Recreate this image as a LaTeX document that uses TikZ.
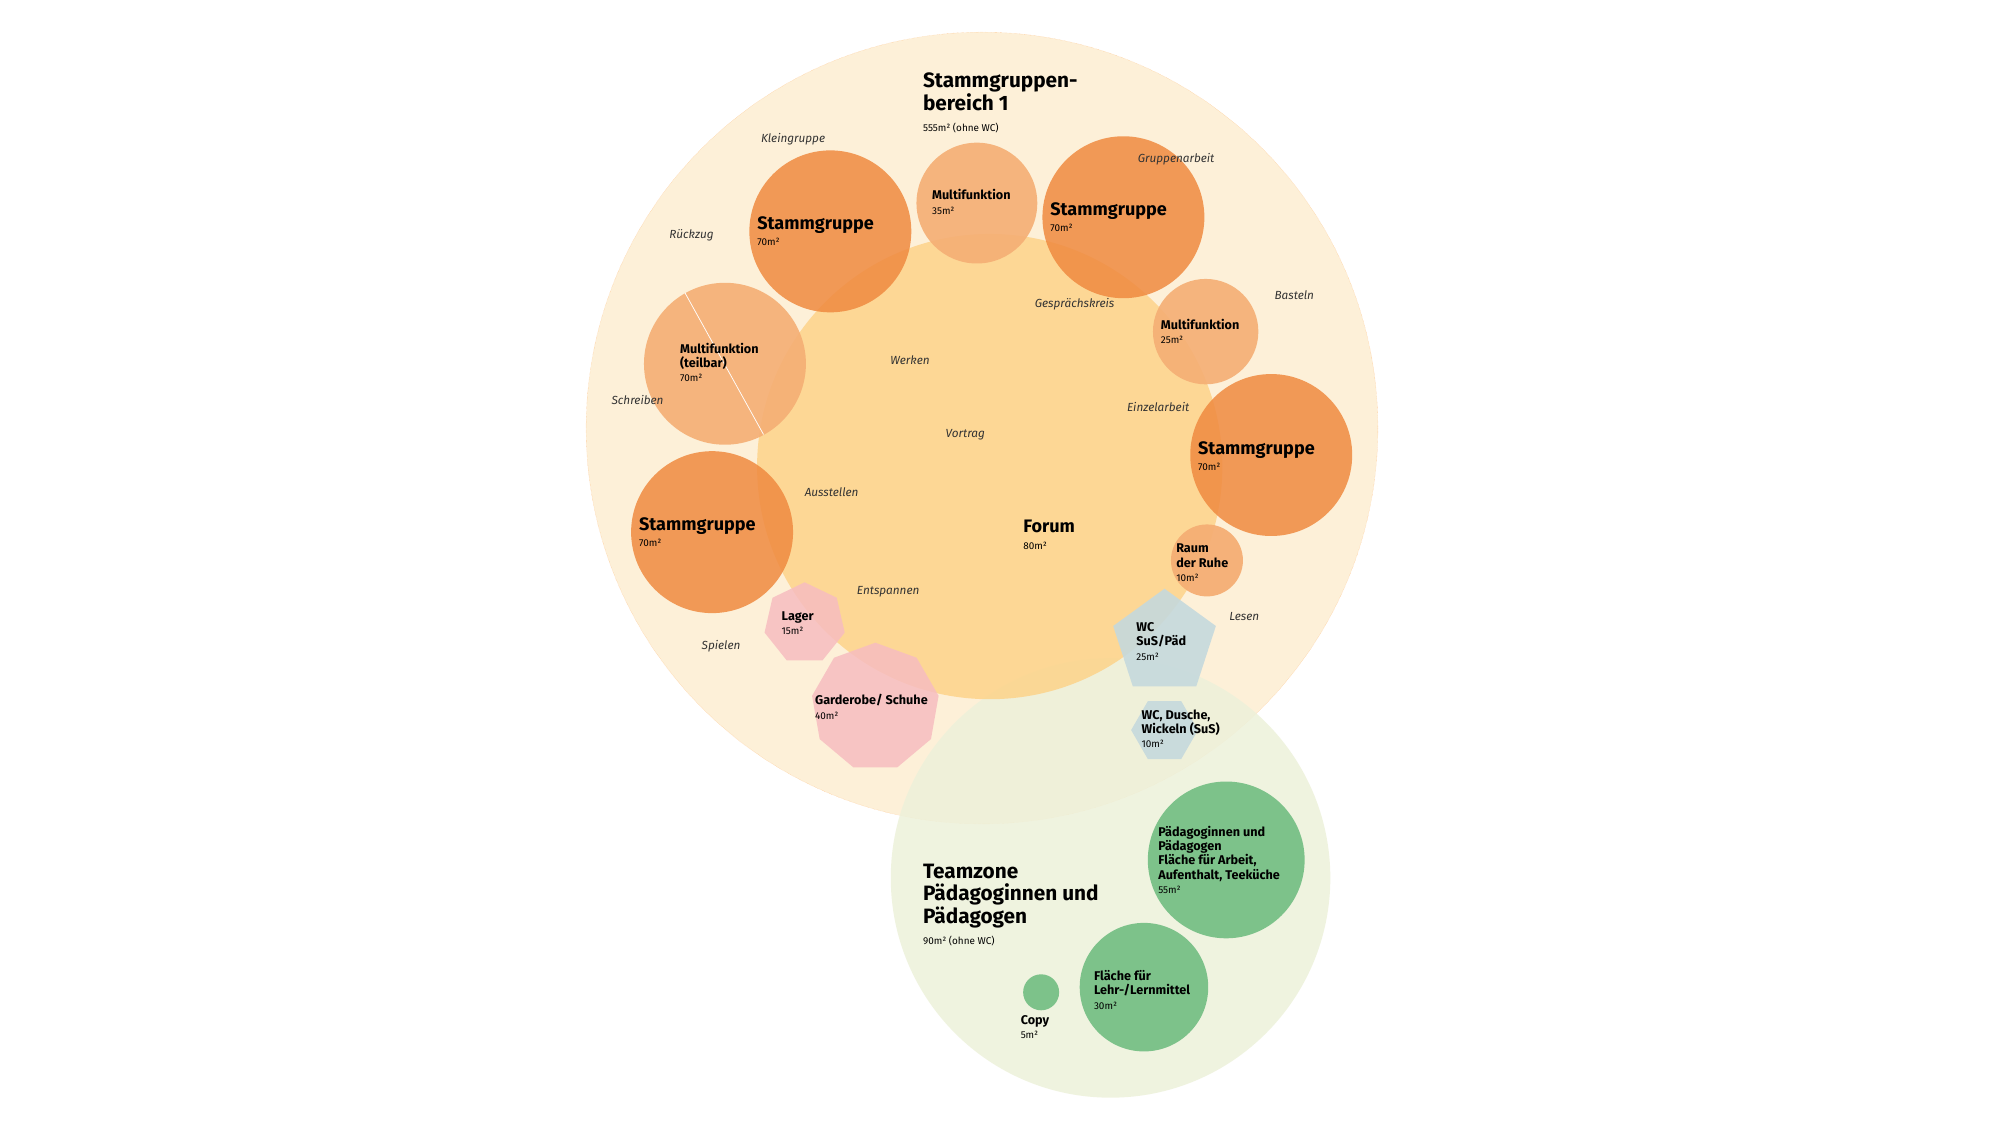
\documentclass[tikz,border=0pt]{standalone}
\usepackage{fontspec}
\setmainfont{Fira Sans}
\usetikzlibrary{shapes.geometric}
\definecolor{zoneorange}{HTML}{FDF0D8}
\definecolor{zonegreen}{HTML}{EDF1DA}
\definecolor{forumcol}{HTML}{FDD38A}
\definecolor{sgcol}{HTML}{F08A40}
\definecolor{mfcol}{HTML}{F5AE74}
\definecolor{pinkcol}{HTML}{F7BDC0}
\definecolor{wccol}{HTML}{C5D9DD}
\definecolor{greencol}{HTML}{7DC28A}
\tikzset{
  room/.style={circle, inner sep=0pt},
  hint/.style={font=\fontsize{13}{15}\selectfont\itshape, text=black!80, xshift=-0.2cm},
  lab/.style={anchor=west, align=left, inner sep=0pt, xshift=-0.3cm, font=\fontsize{14}{16}\selectfont\bfseries},
  biglab/.style={anchor=west, align=left, inner sep=0pt, xshift=-0.3cm, font=\fontsize{23}{25}\selectfont\bfseries},
}
\newcommand{\qm}[1]{{\fontsize{11}{14}\selectfont\mdseries #1}}
\begin{document}
\begin{tikzpicture}[x=0.05cm,y=-0.05cm]
            \useasboundingbox (0,0) rectangle (1556,877);
            \fill[white] (0,0) rectangle (1556,877);

            % zones
            \node[room, minimum size=30.8cm, fill=zoneorange, draw=orange!50, densely dotted] (zone1) at (764,333) {};
            \node[room, minimum size=17.1cm, fill=zonegreen, fill opacity=0.85] (zone2) at (864,683) {};
            \node[room, minimum size=18.1cm, fill=forumcol, fill opacity=0.85] (forum) at (770,363) {};

            % rooms
            \node[room, minimum size=4.7cm, fill=mfcol, fill opacity=0.9] (mf1) at (760,158) {};
            \node[room, minimum size=4.1cm, fill=mfcol, fill opacity=0.9] (mf2) at (938,258) {};
            \node[room, minimum size=6.3cm, fill=mfcol, fill opacity=0.9] (mf3) at (564,283) {};
            \draw[white, thick] (533,228) -- (594,338);
            \node[room, minimum size=6.3cm, fill=sgcol, fill opacity=0.85] (sg1) at (646,180) {};
            \node[room, minimum size=6.3cm, fill=sgcol, fill opacity=0.85] (sg2) at (874,169) {};
            \node[room, minimum size=6.3cm, fill=sgcol, fill opacity=0.85] (sg3) at (989,354) {};
            \node[room, minimum size=6.3cm, fill=sgcol, fill opacity=0.85] (sg4) at (554,414) {};
            \node[room, minimum size=2.8cm, fill=mfcol, fill opacity=0.95] (ruhe) at (939,436) {};
            \node[regular polygon, regular polygon sides=7, inner sep=0pt, minimum size=3.2cm, fill=pinkcol, fill opacity=0.85] (lager) at (626,485) {};
            \node[regular polygon, regular polygon sides=9, inner sep=0pt, minimum size=5cm, fill=pinkcol, fill opacity=0.85] (garde) at (681,550) {};
            \node[regular polygon, regular polygon sides=5, inner sep=0pt, minimum size=4.2cm, fill=wccol, fill opacity=0.9] (wc1) at (906,500) {};
            \node[regular polygon, regular polygon sides=6, inner sep=0pt, minimum size=2.6cm, fill=wccol, fill opacity=0.9] (wc2) at (906,568) {};
            \node[room, minimum size=6.1cm, fill=greencol] (paed) at (954,669) {};
            \node[room, minimum size=5cm, fill=greencol] (lehr) at (890,768) {};
            \node[room, minimum size=1.4cm, fill=greencol] (copy) at (810,772) {};

            % labels
            \node[biglab] (t1) at (724,80) {Stammgruppen-\\bereich 1\\[-2pt]\qm{555m² (ohne WC)}};
            \node[biglab] (t2) at (724,704) {Teamzone\\Pädagoginnen und\\Pädagogen\\[-2pt]\qm{90m² (ohne WC)}};
            \node[biglab, font=\fontsize{20}{22}\selectfont\bfseries] (l1) at (595,180) {Stammgruppe\\[-4pt]\qm{70m²}};
            \node[biglab, font=\fontsize{20}{22}\selectfont\bfseries] (l2) at (823,169) {Stammgruppe\\[-4pt]\qm{70m²}};
            \node[biglab, font=\fontsize{20}{22}\selectfont\bfseries] (l3) at (938,355) {Stammgruppe\\[-4pt]\qm{70m²}};
            \node[biglab, font=\fontsize{20}{22}\selectfont\bfseries] (l4) at (503,414) {Stammgruppe\\[-4pt]\qm{70m²}};
            \node[biglab, font=\fontsize{20}{22}\selectfont\bfseries] (l5) at (802,416) {Forum\\[-4pt]\qm{80m²}};
            \node[lab] (l6) at (731,157) {Multifunktion\\\qm{35m²}};
            \node[lab] (l7) at (909,258) {Multifunktion\\\qm{25m²}};
            \node[lab] (l8) at (535,282) {Multifunktion\\(teilbar)\\\qm{70m²}};
            \node[lab] (l9) at (921,438) {Raum\\der Ruhe\\\qm{10m²}};
            \node[lab] (l10) at (614,485) {Lager\\\qm{15m²}};
            \node[lab] (l11) at (640,550) {Garderobe/ Schuhe\\\qm{40m²}};
            \node[lab] (l12) at (890,499) {WC\\SuS/Päd\\\qm{25m²}};
            \node[lab] (l13) at (894,567) {WC, Dusche,\\Wickeln (SuS)\\\qm{10m²}};
            \node[lab] (l14) at (907,669) {Pädagoginnen und\\Pädagogen\\Fläche für Arbeit,\\Aufenthalt, Teeküche\\\qm{55m²}};
            \node[lab] (l15) at (857,770) {Fläche für\\Lehr-/Lernmittel\\\qm{30m²}};
            \node[lab] (l16) at (800,799) {Copy\\\qm{5m²}};

            % activities
            \node[hint] (a1) at (621,108) {Kleingruppe};
            \node[hint] (a2) at (542,183) {Rückzug};
            \node[hint] (a3) at (500,311) {Schreiben};
            \node[hint] (a4) at (565,503) {Spielen};
            \node[hint] (a5) at (919,124) {Gruppenarbeit};
            \node[hint] (a6) at (1011,230) {Basteln};
            \node[hint] (a7) at (840,237) {Gesprächskreis};
            \node[hint] (a8) at (712,280) {Werken};
            \node[hint] (a9) at (905,317) {Einzelarbeit};
            \node[hint] (a10) at (755,338) {Vortrag};
            \node[hint] (a11) at (651,383) {Ausstellen};
            \node[hint] (a12) at (695,460) {Entspannen};
            \node[hint] (a13) at (972,480) {Lesen};
        \end{tikzpicture}
\end{document}
